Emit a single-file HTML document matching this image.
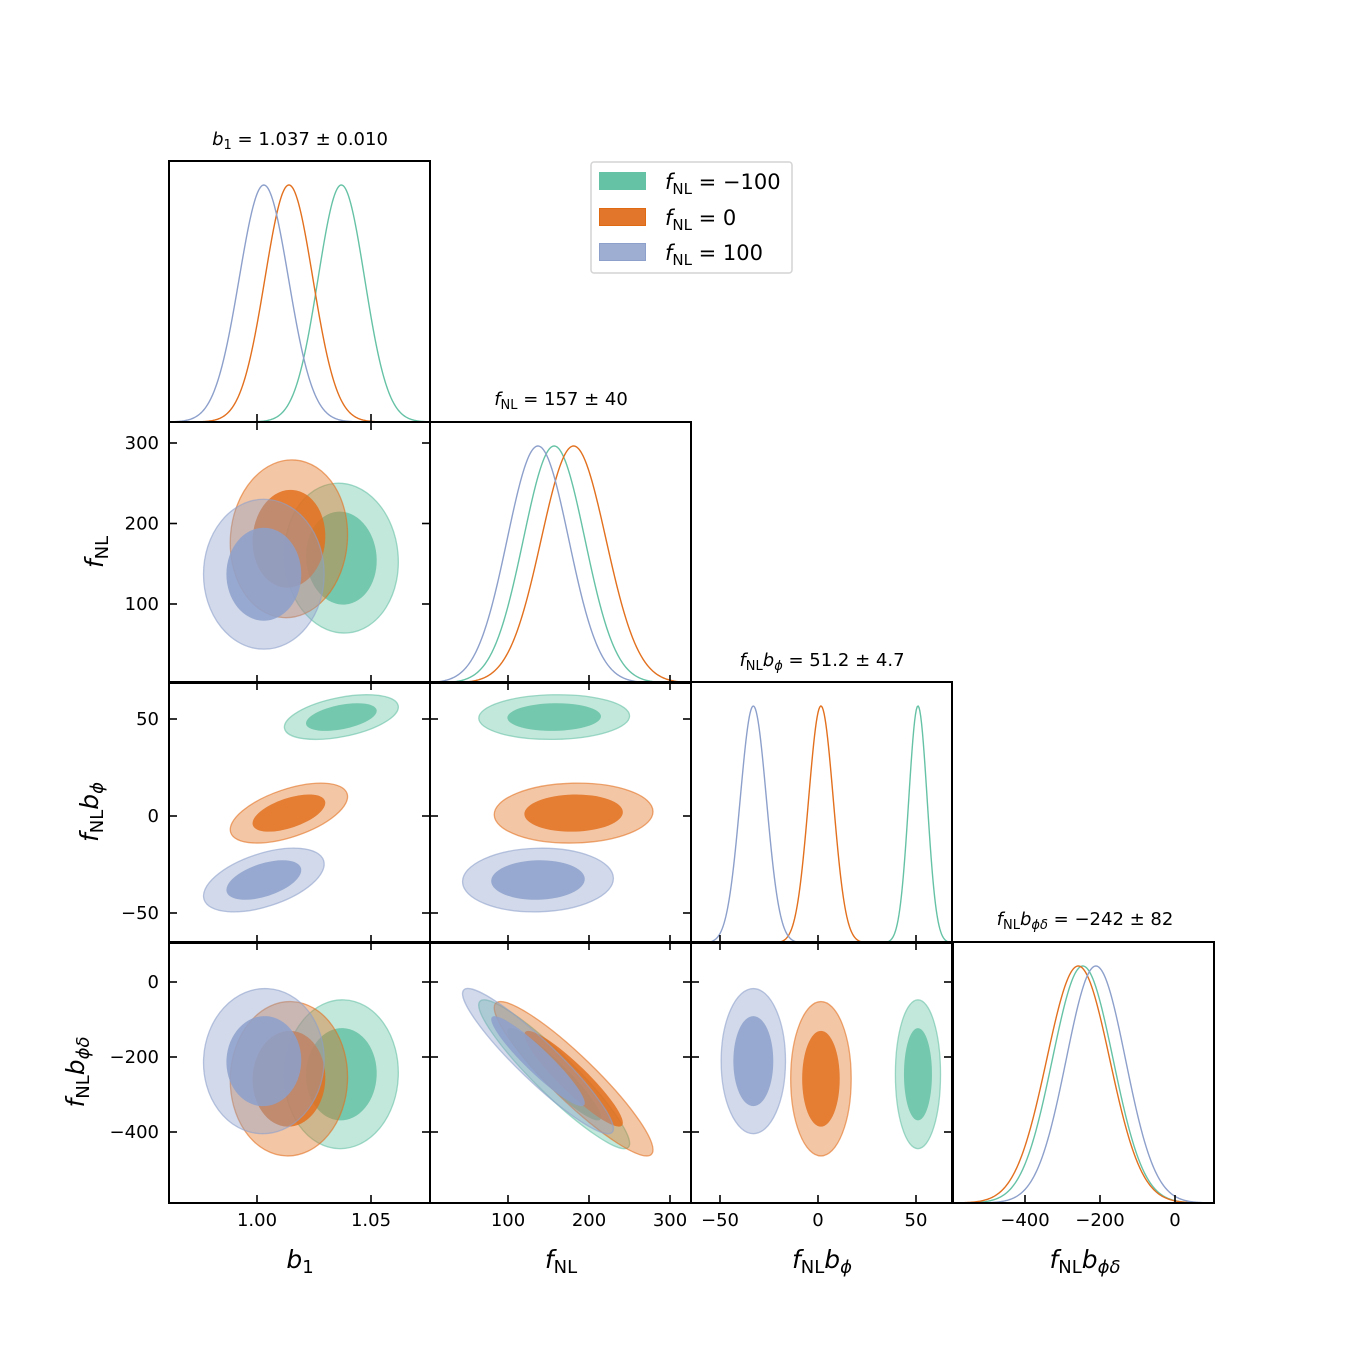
<!DOCTYPE html>
<html><head><meta charset="utf-8">
<style>
html,body{margin:0;padding:0;background:#fff;}
svg{display:block;}
text{font-family:"DejaVu Sans","Liberation Sans",sans-serif;fill:#000;}
.tick{font-size:18px;}
.ttl{font-size:18px;}
.lab{font-size:25px;}
.leg{font-size:21px;}
</style></head>
<body>
<svg id="chart" width="1350" height="1350" viewBox="0 0 1350 1350">
<defs id="defs"></defs>
<g id="plots"></g>
<g id="frames"></g>
<g id="labels"></g>
</svg>
<script>
// ---- data ----
const seriesNames = ["fNL = -100", "fNL = 0", "fNL = 100"];
const seriesColors = ["#66c2a5", "#e2701e", "#8da0cb"];
const paramNames = ["b1", "fNL", "fNLbphi", "fNLbphidelta"];
// means per series: [b1, fNL, fNL*bphi, fNL*bphidelta]
const meansGreen  = [1.037, 157, 51.0, -246];
const meansOrange = [1.014, 181, 1.5, -258];
const meansBlue   = [1.003, 137, -33.0, -211];
const sigmaGreen  = [0.0102, 38, 4.7, 81];
const sigmaOrange = [0.0105, 40, 6.3, 84];
const sigmaBlue   = [0.0108, 38, 6.7, 79];
// correlations: [b1-fNL, b1-bphi, b1-bphid, fNL-bphi, fNL-bphid, bphi-bphid]
const corrGreen   = [-0.05, 0.45, 0.02, 0.05, -0.93, 0.0];
const corrOrange  = [0.05, 0.55, 0.02, 0.05, -0.92, 0.0];
const corrBlue    = [0.0, 0.5, 0.02, 0.05, -0.93, 0.0];
const b1Ticks = [1.00, 1.05];
const b1TickLabels = ["1.00", "1.05"];
const fnlTicks = [100, 200, 300];
const fnlTickLabels = ["100", "200", "300"];
const bphiTicks = [-50, 0, 50];
const bphiTickLabels = ["\u221250", "0", "50"];
const bphidTicks = [-400, -200, 0];
const bphidTickLabels = ["\u2212400", "\u2212200", "0"];

// ---- layout ----
const colX = [169, 430, 691, 953];
const rowY = [161, 422, 682, 942];
const PS = 261;
const hCal = [[1.00, 88, 1.05, 202], [100, 78, 300, 240], [-50, 29, 50, 225], [-400, 72, 0, 222]];
const vCal = [null, [300, 21, 100, 182], [50, 37, -50, 231], [0, 40, -400, 190]];
function xs(p, v) { const c = hCal[p]; return colX[p] + c[1] + (v - c[0]) * (c[3] - c[1]) / (c[2] - c[0]); }
function ys(p, v) { const c = vCal[p]; return rowY[p] + c[1] + (v - c[0]) * (c[3] - c[1]) / (c[2] - c[0]); }
function hScale(p) { const c = hCal[p]; return (c[3] - c[1]) / (c[2] - c[0]); }
function vScale(p) { const c = vCal[p]; return (c[3] - c[1]) / (c[2] - c[0]); }

const NS = "http://www.w3.org/2000/svg";
function mk(tag, attrs, parent) { const e = document.createElementNS(NS, tag); for (const k in attrs) e.setAttribute(k, attrs[k]); if (parent) parent.appendChild(e); return e; }
const defs = document.getElementById('defs');
const plots = document.getElementById('plots');
const frames = document.getElementById('frames');
const labels = document.getElementById('labels');

const allMeans = [meansGreen, meansOrange, meansBlue];
const allSig = [sigmaGreen, sigmaOrange, sigmaBlue];
const allCorr = [corrGreen, corrOrange, corrBlue];
function corrIdx(i, j) { const a = Math.min(i, j), b = Math.max(i, j); const map = {"0,1":0,"0,2":1,"0,3":2,"1,2":3,"1,3":4,"2,3":5}; return map[a + "," + b]; }

for (let r = 0; r < 4; r++) for (let c = 0; c <= r; c++) {
  const cp = mk('clipPath', {id: 'clip' + r + c}, defs);
  mk('rect', {x: colX[c], y: rowY[r], width: PS, height: PS}, cp);
}

// 2D panels
for (let r = 1; r < 4; r++) for (let c = 0; c < r; c++) {
  const g = mk('g', {'clip-path': 'url(#clip' + r + c + ')'}, plots);
  
  
  for (let s = 0; s < 3; s++) {
    const m = allMeans[s], sd = allSig[s], rho = allCorr[s][corrIdx(c, r)];
    const cx = xs(c, m[c]), cy = ys(r, m[r]);
    const sx = sd[c] * Math.abs(hScale(c)), sy = sd[r] * Math.abs(vScale(r));
    const cov = -rho * sx * sy;
    const a = sx * sx, d = sy * sy;
    const tr = (a + d) / 2, det = Math.sqrt(((a - d) / 2) ** 2 + cov * cov);
    const l1 = tr + det, l2 = tr - det;
    const ang = Math.atan2(l1 - a, cov) * 180 / Math.PI;
    const angle = (cov === 0) ? (a >= d ? 0 : 90) : ang;
    const levels = [[2.45, 0.4, 'outer'], [1.52, 0.85, 'inner']];
    for (const lv of levels) {
      const e = mk('ellipse', {cx: cx, cy: cy, rx: lv[0] * Math.sqrt(l1), ry: lv[0] * Math.sqrt(Math.max(l2, 0.01)),
        transform: 'rotate(' + angle + ' ' + cx + ' ' + cy + ')', fill: seriesColors[s], 'fill-opacity': lv[1],
        stroke: lv[2] === 'outer' ? seriesColors[s] : 'none', 'stroke-opacity': 0.6, 'stroke-width': 1.3}, g);
      
      
    }
  }
}

// 1D panels
for (let p = 0; p < 4; p++) {
  const g = mk('g', {'clip-path': 'url(#clip' + p + p + ')'}, plots);
  
  
  const base = rowY[p] + PS, top = rowY[p] + 24;
  for (let s = 0; s < 3; s++) {
    const m = allMeans[s][p], sd = allSig[s][p];
    let dstr = '';
    for (let k = 0; k <= 300; k++) {
      const px = colX[p] + k * PS / 300;
      const v = hCal[p][0] + (px - colX[p] - hCal[p][1]) / hScale(p);
      const y = base - (base - top) * Math.exp(-0.5 * ((v - m) / sd) ** 2);
      dstr += (k ? 'L' : 'M') + px.toFixed(2) + ' ' + y.toFixed(2);
    }
    const path = mk('path', {d: dstr, fill: 'none', stroke: seriesColors[s], 'stroke-width': 1.4}, g);
    
    
  }
}

// frames and ticks
const tickVals = [b1Ticks, fnlTicks, bphiTicks, bphidTicks];
const tickLabs = [b1TickLabels, fnlTickLabels, bphiTickLabels, bphidTickLabels];
const TL = 8;
for (let r = 0; r < 4; r++) for (let c = 0; c <= r; c++) {
  const x0 = colX[c], y0 = rowY[r], x1 = x0 + PS, y1 = y0 + PS;
  const fr = mk('rect', {x: x0, y: y0, width: PS, height: PS, fill: 'none', stroke: '#000', 'stroke-width': 2}, frames);
  
  
  for (const v of tickVals[c]) {
    const x = xs(c, v);
    mk('line', {x1: x, y1: y1, x2: x, y2: y1 - TL, stroke: '#000', 'stroke-width': 1.6}, frames);
    if (r !== c) mk('line', {x1: x, y1: y0, x2: x, y2: y0 + TL, stroke: '#000', 'stroke-width': 1.6}, frames);
  }
  if (r !== c) for (const v of tickVals[r]) {
    const y = ys(r, v);
    mk('line', {x1: x0, y1: y, x2: x0 + TL, y2: y, stroke: '#000', 'stroke-width': 1.6}, frames);
    mk('line', {x1: x1, y1: y, x2: x1 - TL, y2: y, stroke: '#000', 'stroke-width': 1.6}, frames);
  }
}
for (let c = 0; c < 4; c++) tickVals[c].forEach((v, i) => {
  const t = mk('text', {x: xs(c, v), y: 1226, 'text-anchor': 'middle', class: 'tick'}, labels);
  t.textContent = tickLabs[c][i];
  
  
});
for (let r = 1; r < 4; r++) tickVals[r].forEach((v, i) => {
  const t = mk('text', {x: 159, y: ys(r, v) + 6, 'text-anchor': 'end', class: 'tick'}, labels);
  t.textContent = tickLabs[r][i];
  
  
});
</script>
<svg style="position:absolute;left:0;top:0" width="1350" height="1350">
  <text class="ttl" x="300" y="145" text-anchor="middle"><tspan font-style="italic">b</tspan><tspan font-size="13" dy="4">1</tspan><tspan dy="-4"> = 1.037 ± 0.010</tspan></text>
  <text class="ttl" x="561" y="405" text-anchor="middle"><tspan font-style="italic">f</tspan><tspan font-size="13" dy="4">NL</tspan><tspan dy="-4"> = 157 ± 40</tspan></text>
  <text class="ttl" x="822" y="666" text-anchor="middle"><tspan font-style="italic">f</tspan><tspan font-size="13" dy="4">NL</tspan><tspan dy="-4" font-style="italic">b</tspan><tspan font-size="13" dy="4" font-style="italic">ϕ</tspan><tspan dy="-4"> = 51.2 ± 4.7</tspan></text>
  <text class="ttl" x="1085" y="925" text-anchor="middle"><tspan font-style="italic">f</tspan><tspan font-size="13" dy="4">NL</tspan><tspan dy="-4" font-style="italic">b</tspan><tspan font-size="13" dy="4" font-style="italic">ϕδ</tspan><tspan dy="-4"> = −242 ± 82</tspan></text>
  <text class="lab" x="300" y="1268" text-anchor="middle"><tspan font-style="italic">b</tspan><tspan font-size="18" dy="5">1</tspan></text>
  <text class="lab" x="561" y="1268" text-anchor="middle"><tspan font-style="italic">f</tspan><tspan font-size="18" dy="5">NL</tspan></text>
  <text class="lab" x="822" y="1268" text-anchor="middle"><tspan font-style="italic">f</tspan><tspan font-size="18" dy="5">NL</tspan><tspan dy="-5" font-style="italic">b</tspan><tspan font-size="18" dy="5" font-style="italic">ϕ</tspan></text>
  <text class="lab" x="1085" y="1268" text-anchor="middle"><tspan font-style="italic">f</tspan><tspan font-size="18" dy="5">NL</tspan><tspan dy="-5" font-style="italic">b</tspan><tspan font-size="18" dy="5" font-style="italic">ϕδ</tspan></text>
  <text class="lab" transform="translate(103,552) rotate(-90)" text-anchor="middle"><tspan font-style="italic">f</tspan><tspan font-size="18" dy="5">NL</tspan></text>
  <text class="lab" transform="translate(98,812) rotate(-90)" text-anchor="middle"><tspan font-style="italic">f</tspan><tspan font-size="18" dy="5">NL</tspan><tspan dy="-5" font-style="italic">b</tspan><tspan font-size="18" dy="5" font-style="italic">ϕ</tspan></text>
  <text class="lab" transform="translate(84,1072) rotate(-90)" text-anchor="middle"><tspan font-style="italic">f</tspan><tspan font-size="18" dy="5">NL</tspan><tspan dy="-5" font-style="italic">b</tspan><tspan font-size="18" dy="5" font-style="italic">ϕδ</tspan></text>
  <g>
    <rect x="591" y="162" width="201" height="111" rx="3" fill="#fff" stroke="#d4d4d4" stroke-width="1.5"/>
    <rect x="599" y="172" width="47" height="18" fill="#66c2a5"/>
    <rect x="599.5" y="208.5" width="46" height="17" fill="#e2762a" stroke="#e06a12"/>
    <rect x="599.5" y="243.5" width="46" height="17" fill="#9eaed3" stroke="#8da0cb"/>
    <text class="leg" x="665" y="189"><tspan font-style="italic">f</tspan><tspan font-size="15" dy="5">NL</tspan><tspan dy="-5"> = −100</tspan></text>
    <text class="leg" x="665" y="225"><tspan font-style="italic">f</tspan><tspan font-size="15" dy="5">NL</tspan><tspan dy="-5"> = 0</tspan></text>
    <text class="leg" x="665" y="260"><tspan font-style="italic">f</tspan><tspan font-size="15" dy="5">NL</tspan><tspan dy="-5"> = 100</tspan></text>
  </g>
</svg>
</body></html>
